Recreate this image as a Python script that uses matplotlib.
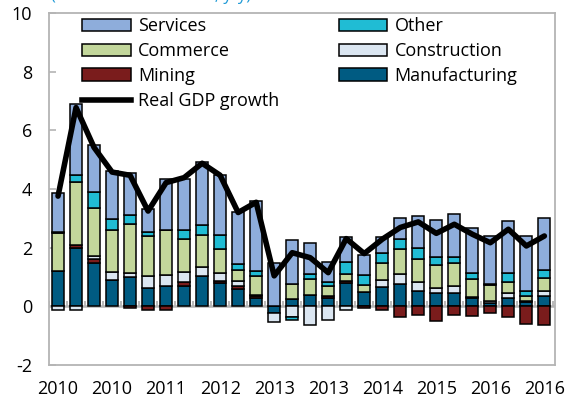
import numpy as np
import matplotlib
matplotlib.use("Agg")
import matplotlib.pyplot as plt
from matplotlib.lines import Line2D
from matplotlib.patches import Patch

plt.rcParams['font.family'] = ['Open Sans', 'DejaVu Sans']

# contributions to growth, quarterly 2010Q1 - 2016Q4
manufacturing = [1.2, 1.98, 1.47, 0.89, 1.01, 0.64, 0.69, 0.69, 1.05, 0.8, 0.6, 0.3, -0.22, 0.25,
                 0.38, 0.3, 0.8, 0.5, 0.66, 0.75, 0.52, 0.47, 0.44, 0.3, 0.1, 0.3, 0.15, 0.35]
mining = [0, 0.11, 0.13, 0, -0.05, -0.13, -0.13, 0.14, 0, 0.05, 0.09, 0.05, 0, 0,
          0, 0.05, 0.05, -0.05, -0.12, -0.35, -0.31, -0.51, -0.31, -0.34, -0.23, -0.35, -0.6, -0.62]
construction = [-0.13, -0.12, 0.12, 0.29, 0.12, 0.4, 0.38, 0.35, 0.3, 0.3, 0.17, 0.05, -0.3, -0.37,
                -0.65, -0.45, -0.12, 0, 0.24, 0.34, 0.31, 0.17, 0.25, 0.03, 0.1, 0.17, 0.05, 0.17]
commerce = [1.3, 2.15, 1.62, 1.42, 1.67, 1.36, 1.52, 1.11, 1.08, 0.82, 0.37, 0.63, 0, 0.5,
            0.56, 0.36, 0.25, 0.23, 0.59, 0.86, 0.77, 0.76, 0.78, 0.61, 0.53, 0.36, 0.17, 0.46]
other = [0.04, 0.23, 0.57, 0.37, 0.31, 0.14, 0.03, 0.31, 0.34, 0.46, 0.23, 0.16, 0, -0.08,
         0.15, 0.11, 0.43, 0.34, 0.32, 0.36, 0.4, 0.28, 0.23, 0.19, 0.02, 0.3, 0.17, 0.26]
services = [1.33, 2.42, 1.58, 1.65, 1.43, 0.77, 1.71, 1.76, 2.14, 2.06, 1.75, 2.39, 1.49, 1.5,
            1.06, 0.68, 0.82, 0.68, 0.56, 0.72, 1.08, 1.27, 1.46, 1.54, 1.65, 1.78, 1.86, 1.79]
gdp = [3.76, 6.78, 5.42, 4.58, 4.47, 3.25, 4.22, 4.39, 4.88, 4.47, 3.2, 3.55, 1.04, 1.83,
       1.66, 1.15, 2.31, 1.8, 2.29, 2.69, 2.88, 2.49, 2.8, 2.46, 2.17, 2.63, 2.06, 2.4]

tick_labels = ["2010", "2010", "2011", "2012", "2013", "2013", "2014", "2015", "2016", "2016"]
tick_step = 3

# stacking order from the zero line outwards
series = [
    ("Manufacturing", manufacturing, "#005b82"),
    ("Mining", mining, "#7a1c1c"),
    ("Construction", construction, "#dbe6f1"),
    ("Commerce", commerce, "#c3d79b"),
    ("Other", other, "#20bcd4"),
    ("Services", services, "#8eaddb"),
]
colors = {name: c for name, _, c in series}

n = len(gdp)
x = np.arange(n)
grey = "#b4b4b4"

fig = plt.figure(figsize=(5.7, 4.04), dpi=100)
ax = fig.add_axes([0.086, 0.0965, 0.888, 0.871])

pos_bottom = np.zeros(n)
neg_bottom = np.zeros(n)
for name, vals, col in series:
    v = np.array(vals, dtype=float)
    bottom = np.where(v >= 0, pos_bottom, neg_bottom)
    ax.bar(x, v, width=0.66, bottom=bottom, color=col, edgecolor="black",
           linewidth=1.1, zorder=3)
    pos_bottom += np.where(v >= 0, v, 0)
    neg_bottom += np.where(v < 0, v, 0)

ax.plot(x, gdp, color="black", linewidth=4, zorder=5, solid_capstyle="round")

# zero line with category tick marks
ax.axhline(0, color=grey, linewidth=1.8, zorder=2)
ax.vlines(np.arange(n + 1) - 0.5, 0, 0.2, color=grey, linewidth=1.3, zorder=2)

ax.set_xlim(-0.5, n - 0.4)
ax.set_ylim(-2, 10)
ax.set_yticks([-2, 0, 2, 4, 6, 8, 10])
ax.set_yticklabels(["-2", "0", "2", "4", "6", "8", "10"])
ax.set_xticks(x[::tick_step])
ax.set_xticklabels(tick_labels)
ax.tick_params(axis="x", length=0, pad=11, labelsize=13)
ax.tick_params(axis="y", direction="in", length=5, color=grey, width=1.2, pad=12, labelsize=13)
for s in ax.spines.values():
    s.set_color(grey)
    s.set_linewidth(1.3)

handles = [
    Patch(facecolor=colors["Services"], edgecolor="black", linewidth=1.1, label="Services"),
    Patch(facecolor=colors["Commerce"], edgecolor="black", linewidth=1.1, label="Commerce"),
    Patch(facecolor=colors["Mining"], edgecolor="black", linewidth=1.1, label="Mining"),
    Line2D([], [], color="black", linewidth=4, label="Real GDP growth"),
    Patch(facecolor=colors["Other"], edgecolor="black", linewidth=1.1, label="Other"),
    Patch(facecolor=colors["Construction"], edgecolor="black", linewidth=1.1, label="Construction"),
    Patch(facecolor=colors["Manufacturing"], edgecolor="black", linewidth=1.1, label="Manufacturing"),
]
ax.legend(handles=handles, ncol=2, loc="upper left", bbox_to_anchor=(0.065, 0.988),
          frameon=False, fontsize=13, borderpad=0, borderaxespad=0,
          handlelength=2.7, handletextpad=0.4, columnspacing=3.3, labelspacing=0.38)

fig.text(0.09, 0.9995, "(Percent contribution, y/y)", color="#1f9ad6", fontsize=12,
         va="baseline", ha="left")

fig.savefig("out.png", dpi=100)
